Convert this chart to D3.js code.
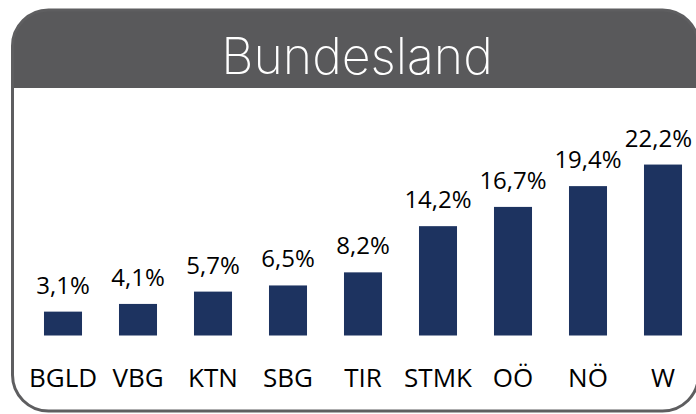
<!DOCTYPE html>
<html>
<head>
<meta charset="utf-8">
<script src="https://cdn.jsdelivr.net/npm/d3@7"></script>
<style>
  body { margin: 0; background: white; }
  svg { display: block; }
</style>
</head>
<body>
<div id="chart"></div>
<script>
// chart data
const categories = ["BGLD", "VBG", "KTN", "SBG", "TIR", "STMK", "OÖ", "NÖ", "W"];
const values = [3.1, 4.1, 5.7, 6.5, 8.2, 14.2, 16.7, 19.4, 22.2];
const title = "Bundesland";

const width = 696, height = 414;
const svg = d3.select("#chart").append("svg")
    .attr("width", width).attr("height", height);

//frame: header with rounded top corners, then outlined box
const fx = 12.5, fy = 10, fw = 686, fh = 401, r = 36, headerH = 78;
svg.append("path")
    .attr("d", `M${fx},${fy + headerH} V${fy + r} A${r},${r} 0 0 1 ${fx + r},${fy} H${fx + fw - r} A${r},${r} 0 0 1 ${fx + fw},${fy + r} V${fy + headerH} Z`)
    .attr("fill", "#59595b");
svg.append("rect")
    .attr("x", fx).attr("y", fy).attr("width", fw).attr("height", fh)
    .attr("rx", r).attr("ry", r)
    .attr("fill", "none").attr("stroke", "#5e5e60").attr("stroke-width", 3);

svg.append("text")
    .attr("x", 357).attr("y", 74)
    .attr("text-anchor", "middle")
    .attr("fill", "white")
    .attr("font-family", "Inter, sans-serif")
    .attr("font-weight", 200)
    .attr("font-size", "50px")
    .text(title);

//scales
const x = d3.scaleBand().domain(categories).range([25.5, 700.5])
    .paddingInner(0.493).paddingOuter(0.2465);
const y = d3.scaleLinear().domain([0, 25]).range([335.5, 143]);

const g = svg.append("g");
g.selectAll("rect.bar")
    .data(values)
    .enter().append("rect")
    .attr("class", "bar")
    .attr("x", (d, i) => x(categories[i]))
    .attr("width", x.bandwidth())
    .attr("y", d => y(d))
    .attr("height", d => y(0) - y(d))
    .attr("fill", "#1d3360");

//value labels above bars, kept inside the frame on the right
g.selectAll("text.val")
    .data(values)
    .enter().append("text")
    .attr("class", "val")
    .attr("x", (d, i) => x(categories[i]) + x.bandwidth() / 2)
    .attr("y", d => y(d) - 18)
    .attr("text-anchor", "middle")
    .attr("font-family", "'Open Sans', sans-serif")
    .attr("font-size", "24px")
    .attr("fill", "black")
    .text(d => d3.format(".1f")(d).replace(".", ",") + "%")
    .each(function() {
        const bb = this.getBBox();
        const maxRight = width - 4;
        if (bb.x + bb.width > maxRight) {
            d3.select(this).attr("x", +d3.select(this).attr("x") - (bb.x + bb.width - maxRight));
        }
    });

//category axis, no line or ticks
const xAxis = svg.append("g")
    .attr("transform", `translate(0,${y(0)})`)
    .call(d3.axisBottom(x).tickSize(0).tickPadding(0));
xAxis.select(".domain").remove();
xAxis.selectAll("text")
    .attr("y", 51.5).attr("dy", null)
    .attr("font-family", "'Open Sans', sans-serif")
    .attr("font-size", "26px")
    .attr("fill", "black");
</script>
</body>
</html>
